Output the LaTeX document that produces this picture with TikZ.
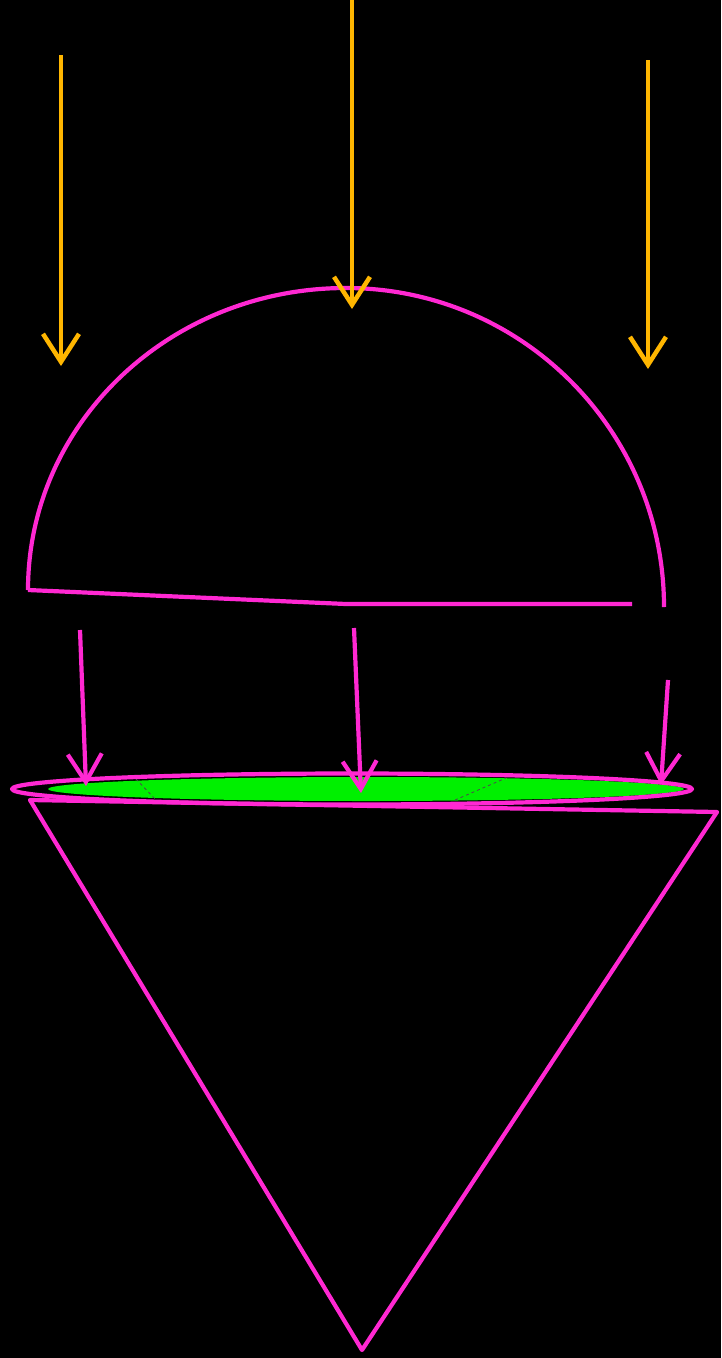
\documentclass[tikz,border=0pt]{standalone}
\usetikzlibrary{arrows.meta}
\definecolor{arrowyellow}{RGB}{255,182,0}
\definecolor{mag}{RGB}{255,40,210}
\definecolor{lensgreen}{RGB}{0,240,0}
\begin{document}
\begin{tikzpicture}[x=1pt,y=-1pt,
  yarrow/.style={draw=arrowyellow,line width=4.5pt,-{Straight Barb[length=28pt,width=36pt,line width=4.5pt]}},
  parrow/.style={draw=mag,line width=4.2pt,-{Straight Barb[length=28pt,width=34pt,line width=4.2pt]}},
  outline/.style={draw=mag,line width=4.2pt,line join=round},
  thinline/.style={draw=black!70,line width=0.8pt,dashed}]
\fill[black] (0,0) rectangle (721,1358);
\useasboundingbox (0,0) rectangle (721,1358);
% named points
\coordinate (arcL) at (28,590);
\coordinate (arcT) at (346,288);
\coordinate (arcR) at (664,607);
\coordinate (baseM) at (346,604);
\coordinate (baseR) at (632,604);
\coordinate (lens) at (352,789);
\coordinate (triL) at (30,800);
\coordinate (triR) at (717,812);
\coordinate (triB) at (362,1350);
% green lens
\fill[lensgreen] (366,789) ellipse [x radius=318, y radius=12];
\draw[thinline] (136,779) -- (156,800);
\draw[thinline] (455,800) -- (506,778);
% semicircle dome
\draw[outline] (arcL) .. controls (28,423) and (170,288) .. (arcT)
  .. controls (522,288) and (664,431) .. (arcR);
\draw[outline] (arcL) -- (baseM) -- (baseR);
% triangle
\draw[outline] (triL) -- (triR) -- (triB) -- cycle;
% ellipse
\draw[outline] (lens) ellipse [x radius=340, y radius=15.5];
% yellow arrows
\coordinate (y1s) at (61,55);  \coordinate (y1e) at (61,366);
\coordinate (y2s) at (352,-2); \coordinate (y2e) at (352,309);
\coordinate (y3s) at (648,60); \coordinate (y3e) at (648,369);
\draw[yarrow] (y1s) -- (y1e);
\draw[yarrow] (y2s) -- (y2e);
\draw[yarrow] (y3s) -- (y3e);
% magenta arrows
\coordinate (p1s) at (80,630);  \coordinate (p1e) at (86,786);
\coordinate (p2s) at (354,628); \coordinate (p2e) at (361,793);
\coordinate (p3s) at (668,680); \coordinate (p3e) at (661,785);
\draw[parrow] (p1s) -- (p1e);
\draw[parrow] (p2s) -- (p2e);
\draw[parrow] (p3s) -- (p3e);
\end{tikzpicture}
\end{document}
